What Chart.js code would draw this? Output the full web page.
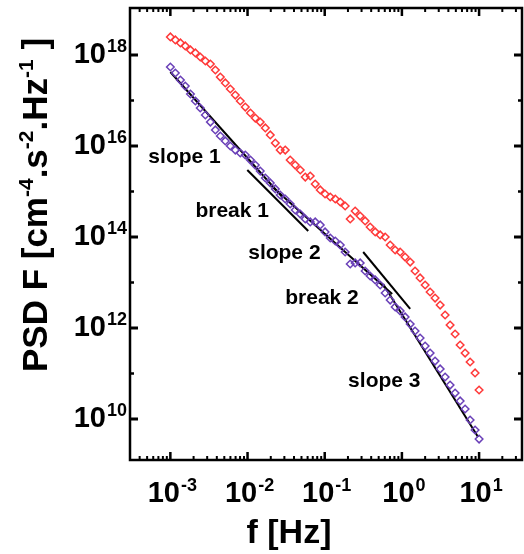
<!DOCTYPE html>
<html>
<head>
<meta charset="utf-8">
<script src="https://cdn.jsdelivr.net/npm/chart.js@4/dist/chart.umd.min.js"></script>
<style>
  body { margin: 0; background: #fff; }
  #wrap { width: 524px; height: 554px; }
</style>
</head>
<body>
<div id="wrap"><canvas id="chart" width="524" height="554"></canvas></div>
<script>
// frequency grid [Hz], shared by both spectra
let freq = [1.00e-3, 1.16e-3, 1.35e-3, 1.56e-3, 1.82e-3, 2.11e-3, 2.44e-3, 2.84e-3, 3.30e-3, 3.83e-3,
    4.44e-3, 5.15e-3, 5.98e-3, 6.94e-3, 8.05e-3, 9.35e-3, 1.09e-2, 1.26e-2, 1.46e-2, 1.70e-2,
    1.97e-2, 2.29e-2, 2.65e-2, 3.08e-2, 3.57e-2, 4.15e-2, 4.82e-2, 5.60e-2, 6.49e-2, 7.53e-2,
    8.75e-2, 0.101, 0.118, 0.137, 0.159, 0.184, 0.214, 0.248, 0.288, 0.334,
    0.388, 0.451, 0.523, 0.607, 0.705, 0.818, 0.949, 1.10, 1.28, 1.48,
    1.72, 2.00, 2.32, 2.69, 3.13, 3.63, 4.21, 4.89, 5.68, 6.59,
    7.65, 8.87, 10.0];

let psdRed = [2.49e18, 2.14e18, 1.84e18, 1.58e18, 1.29e18, 1.11e18, 9.04e17, 7.38e17, 6.34e17, 4.68e17,
    3.28e17, 2.43e17, 1.79e17, 1.32e17, 9.75e16, 7.19e16, 5.31e16, 4.12e16, 3.36e16, 2.49e16,
    1.75e16, 1.16e16, 8.16e15, 8.16e15, 4.92e15, 3.82e15, 2.97e15, 2.08e15, 2.19e15, 1.46e15,
    1.08e15, 8.81e14, 7.57e14, 6.84e14, 5.88e14, 4.80e14, 2.49e14, 3.72e14, 2.89e14, 2.25e14,
    1.66e14, 1.29e14, 1.11e14, 1.00e14, 6.67e13, 5.18e13, 4.68e13, 3.63e13, 2.82e13, 1.79e13,
    1.26e13, 8.81e12, 6.18e12, 4.56e12, 3.20e12, 1.93e12, 1.16e12, 7.38e11, 4.23e11, 2.82e11,
    1.79e11, 1.03e11, 4.34e10];

let psdPurple = [5.45e17, 4.02e17, 2.82e17, 2.08e17, 1.39e17, 9.75e16, 6.84e16, 4.80e16, 3.36e16, 2.25e16,
    1.66e16, 1.29e16, 1.00e16, 8.16e15, 7.02e15, 6.34e15, 4.92e15, 3.82e15, 2.82e15, 1.98e15,
    1.54e15, 1.14e15, 8.38e14, 6.84e14, 5.31e14, 3.92e14, 3.20e14, 2.49e14, 2.14e14, 2.14e14,
    1.84e14, 1.29e14, 9.51e13, 8.17e13, 6.67e13, 4.68e13, 2.55e13, 2.69e13, 2.69e13, 1.79e13,
    1.39e13, 1.14e13, 8.81e12, 5.88e12, 4.12e12, 2.90e12, 2.37e12, 1.75e12, 1.22e12, 8.59e11,
    6.03e11, 4.02e11, 2.82e11, 1.88e11, 1.26e11, 8.38e10, 5.58e10, 3.72e10, 2.49e10, 1.66e10,
    9.51e9, 5.73e9, 3.63e9];

// fitted power-law segments: [f start, f end], [psd start, psd end]
let slope1F = [1.0e-3, 2.90e-2], slope1P = [4.23e17, 7.19e14];
let break1F = [9.93e-3, 6.11e-2], break1P = [2.97e15, 1.36e14];
let slope2F = [1.97e-2, 0.748], slope2P = [1.39e15, 5.58e12];
let break2F = [0.315, 1.28], break2P = [4.68e13, 2.62e12];
let slope3F = [0.571, 9.70], slope3P = [9.27e12, 4.02e9];

let xDecades = [-3, -2, -1, 0, 1];
let yDecades = [10, 12, 14, 16, 18];

let notes = [
    {text: "slope 1", f: 5.19e-4, p: 4.23e15},
    {text: "break 1", f: 2.11e-3, p: 2.75e14},
    {text: "slope 2", f: 1.02e-2, p: 3.28e13},
    {text: "break 2", f: 3.08e-2, p: 3.37e12},
    {text: "slope 3", f: 0.201, p: 5.05e10}
];

const FONT = '"Liberation Sans", Arial, sans-serif';

function pts(fs, ps) {
    return fs.map((f, i) => ({x: f, y: ps[i]}));
}

function fitLine(fs, ps) {
    return {
        type: "line",
        data: pts(fs, ps),
        borderColor: "#000",
        borderWidth: 2,
        pointRadius: 0,
        fill: false
    };
}

// draws "10" with a superscript exponent
function drawPow(ctx, base, sup, x, y, align, bSize, sSize, rise) {
    ctx.font = `bold ${bSize}px ${FONT}`;
    let wb = ctx.measureText(base).width;
    ctx.font = `bold ${sSize}px ${FONT}`;
    let ws = ctx.measureText(sup).width;
    let total = wb + ws + 1;
    let x0 = align === "center" ? x - total / 2 : align === "right" ? x - total : x;
    ctx.textAlign = "left";
    ctx.textBaseline = "alphabetic";
    ctx.font = `bold ${bSize}px ${FONT}`;
    ctx.fillText(base, x0, y);
    ctx.font = `bold ${sSize}px ${FONT}`;
    ctx.fillText(sup, x0 + wb + 1, y - rise);
}

function drawRich(ctx, parts, x, y, bSize, sSize, rise) {
    let widths = parts.map(p => {
        ctx.font = `bold ${p.sup ? sSize : bSize}px ${FONT}`;
        return ctx.measureText(p.t).width;
    });
    let total = widths.reduce((a, b) => a + b, 0);
    let cx = x - total / 2;
    ctx.textAlign = "left";
    ctx.textBaseline = "alphabetic";
    parts.forEach((p, i) => {
        ctx.font = `bold ${p.sup ? sSize : bSize}px ${FONT}`;
        ctx.fillText(p.t, cx, p.sup ? y - rise : y);
        cx += widths[i];
    });
}

let framePlugin = {
    id: "frame",
    afterDraw(chart) {
        let ctx = chart.ctx;
        let a = chart.chartArea;
        let xs = chart.scales.x, ys = chart.scales.y;
        ctx.save();
        ctx.fillStyle = "#000";
        ctx.strokeStyle = "#000";

        // box
        ctx.lineWidth = 2.5;
        ctx.strokeRect(a.left, a.top, a.right - a.left, a.bottom - a.top);

        // x ticks (bottom + top, pointing inward)
        for (let e = -4; e <= 1; e++) {
            for (let m = 1; m <= 9; m++) {
                let v = m * Math.pow(10, e);
                let px = xs.getPixelForValue(v);
                if (px <= a.left + 1 || px >= a.right - 1) continue;
                let len = m === 1 ? 8 : 4;
                ctx.lineWidth = m === 1 ? 2.5 : 2;
                ctx.beginPath();
                ctx.moveTo(px, a.bottom);
                ctx.lineTo(px, a.bottom - len);
                ctx.moveTo(px, a.top);
                ctx.lineTo(px, a.top + len);
                ctx.stroke();
            }
        }
        // y ticks, one per decade, major on even exponents
        for (let e = 9; e <= 19; e++) {
            let py = ys.getPixelForValue(Math.pow(10, e));
            if (py <= a.top + 2 || py >= a.bottom - 1) continue;
            let major = e % 2 === 0;
            let len = major ? 8 : 4;
            ctx.lineWidth = major ? 3 : 2.5;
            ctx.beginPath();
            ctx.moveTo(a.left, py);
            ctx.lineTo(a.left + len, py);
            ctx.moveTo(a.right, py);
            ctx.lineTo(a.right - len, py);
            ctx.stroke();
        }

        // tick labels
        xDecades.forEach(e => {
            let px = xs.getPixelForValue(Math.pow(10, e));
            drawPow(ctx, "10", String(e), px + 2, 502, "center", 29, 18, 11);
        });
        yDecades.forEach(e => {
            let py = ys.getPixelForValue(Math.pow(10, e));
            drawPow(ctx, "10", String(e), 127, py + 8, "right", 29, 18, 11);
        });

        // axis titles
        drawRich(ctx, [{t: "f [Hz]"}], 289, 543, 34, 20, 0);
        ctx.save();
        ctx.translate(47, 205);
        ctx.rotate(-Math.PI / 2);
        drawRich(ctx, [
            {t: "PSD F [cm"}, {t: "-4", sup: true}, {t: ".s"}, {t: "-2", sup: true},
            {t: ".Hz"}, {t: "-1", sup: true}, {t: " ]"}
        ], 0, 0, 35, 21, 14);
        ctx.restore();

        // annotations
        ctx.font = `bold 21px ${FONT}`;
        ctx.textAlign = "left";
        ctx.textBaseline = "alphabetic";
        notes.forEach(n => {
            ctx.fillText(n.text, xs.getPixelForValue(n.f), ys.getPixelForValue(n.p));
        });
        ctx.restore();
    }
};

let ctx = document.getElementById("chart").getContext("2d");
new Chart(ctx, {
    type: "scatter",
    data: {
        datasets: [
            {
                data: pts(freq, psdRed),
                pointStyle: "rectRot",
                pointRadius: 3.8,
                borderColor: "#ff3838",
                backgroundColor: "rgba(0,0,0,0)",
                borderWidth: 1.5
            },
            {
                data: pts(freq, psdPurple),
                pointStyle: "rectRot",
                pointRadius: 3.8,
                borderColor: "#6a40b8",
                backgroundColor: "rgba(0,0,0,0)",
                borderWidth: 1.5
            },
            fitLine(slope1F, slope1P),
            fitLine(break1F, break1P),
            fitLine(slope2F, slope2P),
            fitLine(break2F, break2P),
            fitLine(slope3F, slope3P)
        ]
    },
    options: {
        responsive: false,
        animation: false,
        layout: {autoPadding: false, padding: {left: 130, top: 8, right: 2, bottom: 94}},
        plugins: {legend: {display: false}, tooltip: {enabled: false}},
        scales: {
            x: {type: "logarithmic", display: false, min: Math.pow(10, -3.518), max: Math.pow(10, 1.556)},
            y: {type: "logarithmic", display: false, min: Math.pow(10, 9.099), max: Math.pow(10, 19.033)}
        }
    },
    plugins: [framePlugin]
});
</script>
</body>
</html>
